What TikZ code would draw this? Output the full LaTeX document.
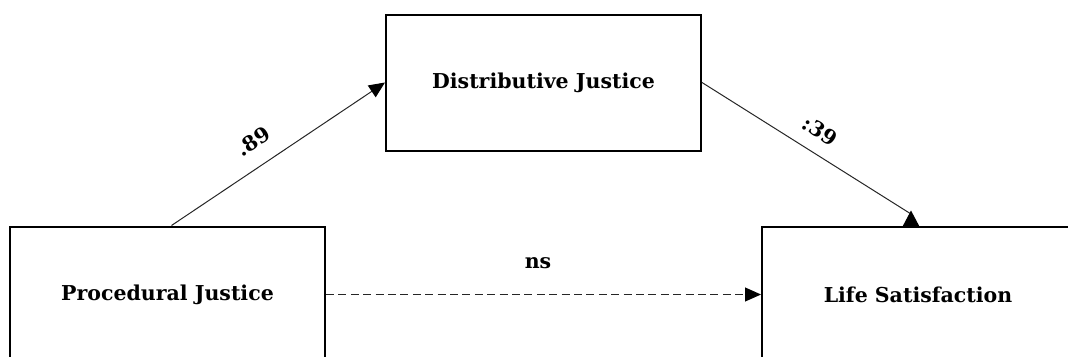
\documentclass[tikz,border=0pt]{standalone}
\usepackage{fontspec}
\setmainfont{DejaVu Serif}
\usetikzlibrary{arrows.meta,calc}

\tikzset{
  varbox/.style={draw=black, line width=2pt, fill=white, inner sep=0pt,
    minimum width=315pt, minimum height=136pt,
    font=\fontsize{20.5}{24}\selectfont\bfseries},
  path/.style={draw=black!85, line width=1pt},
  tip/.style={-{Triangle[length=16pt,width=14pt,color=black]}},
  coef/.style={font=\fontsize{20.5}{24}\selectfont\bfseries, inner sep=0pt}
}

\begin{document}
\begin{tikzpicture}[x=1pt,y=-1pt]
  \useasboundingbox (0,0) rectangle (1068,356);
  \clip (0,0) rectangle (1068,356);

  % the three variables
  \node[varbox] (dist) at (543.5,82.5) {Distributive Justice};
  \node[varbox] (proc) at (167.5,294.5) {Procedural Justice};
  \node[varbox, minimum width=312pt] (life) at (918,294.5) {Life Satisfaction};

  % path a: procedural -> distributive
  \draw[path, tip] ([xshift=4pt]proc.north) -- (dist.west);
  \node[coef, rotate=34] (a) at (253,141) {.89};

  % path b: distributive -> life satisfaction, head sitting on the box edge
  \coordinate (bend) at (911,214);
  \draw[path] (dist.east) -- (bend);
  \fill[black] (911,210.5) -- (920,227.5) -- (902,227.5) -- cycle;
  \node[coef, rotate=-33] (b) at (820,131) {:39};

  % direct path c': not significant
  \draw[path, tip, dash pattern=on 8pt off 4.4pt] (proc.east) -- (life.west);
  \node[coef] (c) at (538,263) {ns};
\end{tikzpicture}
\end{document}
